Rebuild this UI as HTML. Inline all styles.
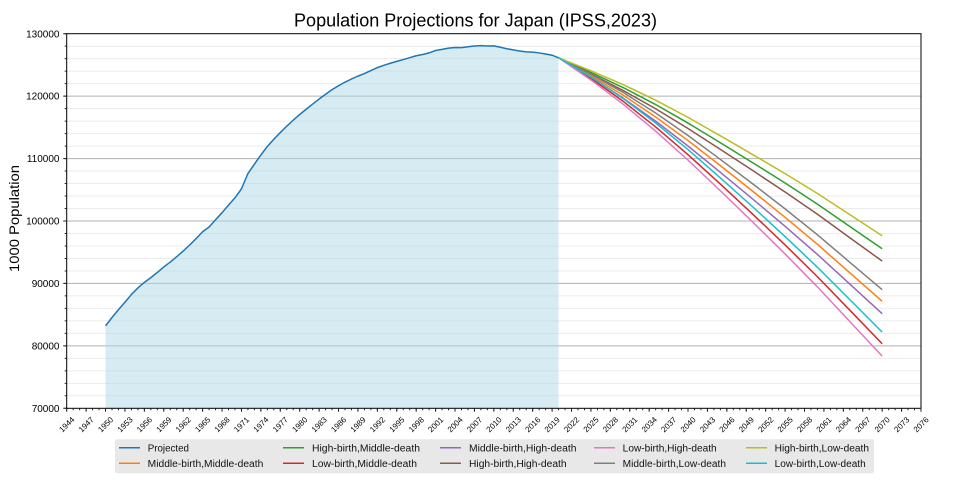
<!DOCTYPE html>
<html><head><meta charset="utf-8"><style>
html,body{margin:0;padding:0;background:#fff;}
svg{display:block;font-family:"Liberation Sans",sans-serif;}
</style></head><body>
<svg width="960" height="480" viewBox="0 0 960 480" xmlns="http://www.w3.org/2000/svg">
<rect width="960" height="480" fill="#fff"/>
<!-- minor grid -->
<g stroke="#ebebeb" stroke-width="1">
<line x1="66.7" x2="921" y1="46.19" y2="46.19"/><line x1="66.7" x2="921" y1="58.67" y2="58.67"/><line x1="66.7" x2="921" y1="71.16" y2="71.16"/><line x1="66.7" x2="921" y1="83.65" y2="83.65"/>
<line x1="66.7" x2="921" y1="108.62" y2="108.62"/><line x1="66.7" x2="921" y1="121.11" y2="121.11"/><line x1="66.7" x2="921" y1="133.59" y2="133.59"/><line x1="66.7" x2="921" y1="146.08" y2="146.08"/>
<line x1="66.7" x2="921" y1="171.05" y2="171.05"/><line x1="66.7" x2="921" y1="183.54" y2="183.54"/><line x1="66.7" x2="921" y1="196.03" y2="196.03"/><line x1="66.7" x2="921" y1="208.51" y2="208.51"/>
<line x1="66.7" x2="921" y1="233.49" y2="233.49"/><line x1="66.7" x2="921" y1="245.97" y2="245.97"/><line x1="66.7" x2="921" y1="258.46" y2="258.46"/><line x1="66.7" x2="921" y1="270.95" y2="270.95"/>
<line x1="66.7" x2="921" y1="295.92" y2="295.92"/><line x1="66.7" x2="921" y1="308.41" y2="308.41"/><line x1="66.7" x2="921" y1="320.89" y2="320.89"/><line x1="66.7" x2="921" y1="333.38" y2="333.38"/>
<line x1="66.7" x2="921" y1="358.35" y2="358.35"/><line x1="66.7" x2="921" y1="370.84" y2="370.84"/><line x1="66.7" x2="921" y1="383.32" y2="383.32"/><line x1="66.7" x2="921" y1="395.81" y2="395.81"/>
</g>
<!-- major grid -->
<g stroke="#b0b0b0" stroke-width="1">
<line x1="66.7" x2="921" y1="96.13" y2="96.13"/><line x1="66.7" x2="921" y1="158.57" y2="158.57"/><line x1="66.7" x2="921" y1="221.0" y2="221.0"/><line x1="66.7" x2="921" y1="283.43" y2="283.43"/><line x1="66.7" x2="921" y1="345.87" y2="345.87"/>
</g>
<!-- data -->
<g transform="translate(66.7,33.7) scale(6.472,6.2433)" fill="none" stroke-width="1.5" stroke-linejoin="round" stroke-linecap="butt">
<polygon fill="#add8e6" fill-opacity="0.5" stroke="none" points="6,60 6,46.8 7,45.459 8,44.192 9,43.019 10,41.761 11,40.724 12,39.828 13,39.072 14,38.233 15,37.359 16,36.581 17,35.713 18,34.819 19,33.844 20,32.818 21,31.725 22,30.964 23,29.804 24,28.669 25,27.464 26,26.28 27,24.855 28,22.405 29,20.896 30,19.427 31,18.06 32,16.906 33,15.835 34,14.81 35,13.845 36,12.94 37,12.098 38,11.272 39,10.464 40,9.695 41,8.951 42,8.34 43,7.761 44,7.255 45,6.795 46,6.389 47,5.899 48,5.433 49,5.062 50,4.735 51,4.43 52,4.141 53,3.843 54,3.528 55,3.333 56,3.074 57,2.684 58,2.514 59,2.306 60,2.213 61,2.232 62,2.099 63,1.967 64,1.916 65,1.968 66,1.943 67,2.166 68,2.407 69,2.586 70,2.763 71,2.905 72,2.958 73,3.081 74,3.251 75,3.445 76,3.854 76,60"/>
<polyline vector-effect="non-scaling-stroke" stroke="#1f77b4" points="6,46.8 7,45.459 8,44.192 9,43.019 10,41.761 11,40.724 12,39.828 13,39.072 14,38.233 15,37.359 16,36.581 17,35.713 18,34.819 19,33.844 20,32.818 21,31.725 22,30.964 23,29.804 24,28.669 25,27.464 26,26.28 27,24.855 28,22.405 29,20.896 30,19.427 31,18.06 32,16.906 33,15.835 34,14.81 35,13.845 36,12.94 37,12.098 38,11.272 39,10.464 40,9.695 41,8.951 42,8.34 43,7.761 44,7.255 45,6.795 46,6.389 47,5.899 48,5.433 49,5.062 50,4.735 51,4.43 52,4.141 53,3.843 54,3.528 55,3.333 56,3.074 57,2.684 58,2.514 59,2.306 60,2.213 61,2.232 62,2.099 63,1.967 64,1.916 65,1.968 66,1.943 67,2.166 68,2.407 69,2.586 70,2.763 71,2.905 72,2.958 73,3.081 74,3.251 75,3.445 76,3.854"/>
<polyline vector-effect="non-scaling-stroke" stroke="#ff7f0e" points="76,3.854 81,6.729 86,9.862 91,13.333 96,17.117 101,21.135 106,25.231 111,29.406 116,33.736 121,38.3 126,42.864"/>
<polyline vector-effect="non-scaling-stroke" stroke="#2ca02c" points="76,3.854 81,6.197 86,8.64 91,11.346 96,14.311 101,17.468 106,20.666 111,23.915 116,27.29 121,30.876 126,34.439"/>
<polyline vector-effect="non-scaling-stroke" stroke="#d62728" points="76,3.854 81,7.158 86,10.847 91,14.935 96,19.379 101,24.092 106,28.911 111,33.834 116,38.933 121,44.286 126,49.657"/>
<polyline vector-effect="non-scaling-stroke" stroke="#9467bd" points="76,3.854 81,6.979 86,10.329 91,14.005 96,17.988 101,22.199 106,26.485 111,30.847 116,35.361 121,40.106 126,44.85"/>
<polyline vector-effect="non-scaling-stroke" stroke="#8c564b" points="76,3.854 81,6.447 86,9.107 91,12.018 96,15.182 101,18.532 106,21.92 111,25.356 116,28.915 121,32.682 126,36.425"/>
<polyline vector-effect="non-scaling-stroke" stroke="#e377c2" points="76,3.854 81,7.408 86,11.314 91,15.607 96,20.25 101,25.156 106,30.165 111,35.275 116,40.558 121,46.092 126,51.643"/>
<polyline vector-effect="non-scaling-stroke" stroke="#7f7f7f" points="76,3.854 81,6.495 86,9.426 91,12.704 96,16.302 101,20.139 106,24.058 111,28.058 116,32.216 121,36.61 126,41.006"/>
<polyline vector-effect="non-scaling-stroke" stroke="#bcbd22" points="76,3.854 81,5.94 86,8.159 91,10.649 96,13.406 101,16.359 106,19.358 111,22.409 116,25.59 121,28.983 126,32.356"/>
<polyline vector-effect="non-scaling-stroke" stroke="#17becf" points="76,3.854 81,6.924 86,10.411 91,14.306 96,18.564 101,23.096 106,27.738 111,32.486 116,37.413 121,42.596 126,47.799"/>
</g>
<!-- spines -->
<rect x="66.7" y="33.7" width="854.3" height="374.6" fill="none" stroke="#000" stroke-width="1"/>
<!-- ticks -->
<line x1="66.2" y1="409.3" x2="922" y2="409.3" stroke="#222" stroke-width="2" stroke-dasharray="1 5.472"/>
<line x1="66.2" y1="410.05" x2="922" y2="410.05" stroke="#222" stroke-width="3.5" stroke-dasharray="1 18.416"/>
<line x1="64.95" y1="33.2" x2="64.95" y2="409" stroke="#222" stroke-width="3.5" stroke-dasharray="1 61.433"/>
<line x1="65.7" y1="33.2" x2="65.7" y2="409" stroke="#222" stroke-width="2" stroke-dasharray="1 11.4866"/>
<!-- y labels -->
<g font-size="10" fill="#000" text-anchor="end">
<text x="59.5" y="37.3">130000</text>
<text x="59.5" y="99.7">120000</text>
<text x="59.5" y="162.2">110000</text>
<text x="59.5" y="224.6">100000</text>
<text x="59.5" y="287.0">90000</text>
<text x="59.5" y="349.5">80000</text>
<text x="59.5" y="411.9">70000</text>
</g>
<!-- x labels -->
<g font-size="8" fill="#000" text-anchor="middle">
<text transform="translate(66.70,424.5) rotate(-45)" dy="2.8">1944</text>
<text transform="translate(86.12,424.5) rotate(-45)" dy="2.8">1947</text>
<text transform="translate(105.53,424.5) rotate(-45)" dy="2.8">1950</text>
<text transform="translate(124.95,424.5) rotate(-45)" dy="2.8">1953</text>
<text transform="translate(144.36,424.5) rotate(-45)" dy="2.8">1956</text>
<text transform="translate(163.78,424.5) rotate(-45)" dy="2.8">1959</text>
<text transform="translate(183.20,424.5) rotate(-45)" dy="2.8">1962</text>
<text transform="translate(202.61,424.5) rotate(-45)" dy="2.8">1965</text>
<text transform="translate(222.03,424.5) rotate(-45)" dy="2.8">1968</text>
<text transform="translate(241.44,424.5) rotate(-45)" dy="2.8">1971</text>
<text transform="translate(260.86,424.5) rotate(-45)" dy="2.8">1974</text>
<text transform="translate(280.28,424.5) rotate(-45)" dy="2.8">1977</text>
<text transform="translate(299.69,424.5) rotate(-45)" dy="2.8">1980</text>
<text transform="translate(319.11,424.5) rotate(-45)" dy="2.8">1983</text>
<text transform="translate(338.52,424.5) rotate(-45)" dy="2.8">1986</text>
<text transform="translate(357.94,424.5) rotate(-45)" dy="2.8">1989</text>
<text transform="translate(377.36,424.5) rotate(-45)" dy="2.8">1992</text>
<text transform="translate(396.77,424.5) rotate(-45)" dy="2.8">1995</text>
<text transform="translate(416.19,424.5) rotate(-45)" dy="2.8">1998</text>
<text transform="translate(435.60,424.5) rotate(-45)" dy="2.8">2001</text>
<text transform="translate(455.02,424.5) rotate(-45)" dy="2.8">2004</text>
<text transform="translate(474.44,424.5) rotate(-45)" dy="2.8">2007</text>
<text transform="translate(493.85,424.5) rotate(-45)" dy="2.8">2010</text>
<text transform="translate(513.27,424.5) rotate(-45)" dy="2.8">2013</text>
<text transform="translate(532.68,424.5) rotate(-45)" dy="2.8">2016</text>
<text transform="translate(552.10,424.5) rotate(-45)" dy="2.8">2019</text>
<text transform="translate(571.52,424.5) rotate(-45)" dy="2.8">2022</text>
<text transform="translate(590.93,424.5) rotate(-45)" dy="2.8">2025</text>
<text transform="translate(610.35,424.5) rotate(-45)" dy="2.8">2028</text>
<text transform="translate(629.76,424.5) rotate(-45)" dy="2.8">2031</text>
<text transform="translate(649.18,424.5) rotate(-45)" dy="2.8">2034</text>
<text transform="translate(668.60,424.5) rotate(-45)" dy="2.8">2037</text>
<text transform="translate(688.01,424.5) rotate(-45)" dy="2.8">2040</text>
<text transform="translate(707.43,424.5) rotate(-45)" dy="2.8">2043</text>
<text transform="translate(726.84,424.5) rotate(-45)" dy="2.8">2046</text>
<text transform="translate(746.26,424.5) rotate(-45)" dy="2.8">2049</text>
<text transform="translate(765.68,424.5) rotate(-45)" dy="2.8">2052</text>
<text transform="translate(785.09,424.5) rotate(-45)" dy="2.8">2055</text>
<text transform="translate(804.51,424.5) rotate(-45)" dy="2.8">2058</text>
<text transform="translate(823.92,424.5) rotate(-45)" dy="2.8">2061</text>
<text transform="translate(843.34,424.5) rotate(-45)" dy="2.8">2064</text>
<text transform="translate(862.76,424.5) rotate(-45)" dy="2.8">2067</text>
<text transform="translate(882.17,424.5) rotate(-45)" dy="2.8">2070</text>
<text transform="translate(901.59,424.5) rotate(-45)" dy="2.8">2073</text>
<text transform="translate(921.00,424.5) rotate(-45)" dy="2.8">2076</text>
</g>
<!-- title -->
<text x="294" y="26.5" font-size="18" fill="#000" textLength="363" lengthAdjust="spacingAndGlyphs">Population Projections for Japan (IPSS,2023)</text>
<!-- y axis label -->
<text transform="translate(19,218.5) rotate(-90)" font-size="13.5" fill="#000" text-anchor="middle" textLength="107" lengthAdjust="spacingAndGlyphs">1000 Population</text>
<!-- legend -->
<rect x="115" y="439.3" width="759" height="34" rx="2" fill="#e8e8e8"/>
<g stroke-width="1.5">
<line x1="119" x2="140" y1="447.7" y2="447.7" stroke="#1f77b4"/>
<line x1="119" x2="140" y1="463.3" y2="463.3" stroke="#ff7f0e"/>
<line x1="283" x2="304" y1="447.7" y2="447.7" stroke="#2ca02c"/>
<line x1="283" x2="304" y1="463.3" y2="463.3" stroke="#d62728"/>
<line x1="440" x2="461" y1="447.7" y2="447.7" stroke="#9467bd"/>
<line x1="440" x2="461" y1="463.3" y2="463.3" stroke="#8c564b"/>
<line x1="594" x2="615" y1="447.7" y2="447.7" stroke="#e377c2"/>
<line x1="594" x2="615" y1="463.3" y2="463.3" stroke="#7f7f7f"/>
<line x1="746" x2="767" y1="447.7" y2="447.7" stroke="#bcbd22"/>
<line x1="746" x2="767" y1="463.3" y2="463.3" stroke="#17becf"/>
</g>
<g font-size="10" fill="#111">
<text x="147.7" y="451.3" textLength="41.3" lengthAdjust="spacingAndGlyphs">Projected</text>
<text x="147.7" y="466.9" textLength="115.6" lengthAdjust="spacingAndGlyphs">Middle-birth,Middle-death</text>
<text x="312" y="451.3" textLength="108" lengthAdjust="spacingAndGlyphs">High-birth,Middle-death</text>
<text x="312" y="466.9" textLength="105" lengthAdjust="spacingAndGlyphs">Low-birth,Middle-death</text>
<text x="469" y="451.3" textLength="107.5" lengthAdjust="spacingAndGlyphs">Middle-birth,High-death</text>
<text x="469" y="466.9" textLength="97.6" lengthAdjust="spacingAndGlyphs">High-birth,High-death</text>
<text x="622.7" y="451.3" textLength="94" lengthAdjust="spacingAndGlyphs">Low-birth,High-death</text>
<text x="622.7" y="466.9" textLength="103.3" lengthAdjust="spacingAndGlyphs">Middle-birth,Low-death</text>
<text x="774.7" y="451.3" textLength="94.3" lengthAdjust="spacingAndGlyphs">High-birth,Low-death</text>
<text x="774.7" y="466.9" textLength="91" lengthAdjust="spacingAndGlyphs">Low-birth,Low-death</text>
</g>
</svg>
</body></html>
